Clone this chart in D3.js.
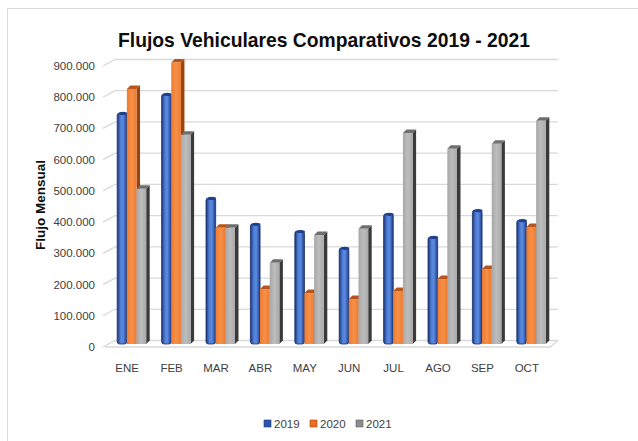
<!DOCTYPE html>
<html>
<head>
<meta charset="utf-8">
<script src="https://cdn.jsdelivr.net/npm/d3@7"></script>
<style>
  body { margin: 0; background: #fff; }
  text { font-family: "Liberation Sans", Arial, sans-serif; }
</style>
</head>
<body>
<script>
// chart values
const months = ["ENE", "FEB", "MAR", "ABR", "MAY", "JUN", "JUL", "AGO", "SEP", "OCT"];
const years = ["2019", "2020", "2021"];
const v2019 = [740000, 801000, 468000, 385000, 362000, 308000, 417000, 343000, 429000, 397000];
const v2020 = [817000, 902000, 372000, 176000, 163000, 144000, 170000, 208000, 240000, 375000];
const v2021 = [497000, 670000, 372000, 260000, 349000, 369000, 676000, 625000, 641000, 715000];
const yTicks = [0, 100000, 200000, 300000, 400000, 500000, 600000, 700000, 800000, 900000];

const series = [v2019, v2020, v2021];
const data = months.map((m, i) => ({ m, vals: years.map((y, j) => ({ y, v: series[j][i] })) }));

const W = 638, H = 441;
const svg = d3.select("body").append("svg").attr("width", W).attr("height", H);

// outer frame
svg.append("rect").attr("x", 7.5).attr("y", 8.5).attr("width", 700).attr("height", 500)
  .attr("fill", "#fff").attr("stroke", "#d9d9d9");

const fmt = d3.formatLocale({ decimal: ",", thousands: ".", grouping: [3], currency: ["$", ""] }).format(",");

var yScale = d3.scaleLinear().domain([0, 900000]).range([344, 63]);
var xScale = d3.scaleBand().domain(months).range([105, 549]);
var depth = 3.5;

const defs = svg.append("defs");
function hgrad(id, stops) {
  const g = defs.append("linearGradient").attr("id", id).attr("x1", 0).attr("x2", 1).attr("y1", 0).attr("y2", 0);
  stops.forEach(s => g.append("stop").attr("offset", s[0]).attr("stop-color", s[1]));
}
hgrad("gBlue", [[0, "#1c3577"], [0.35, "#4f7fd6"], [0.6, "#5a8ae0"], [1, "#1f3c86"]]);
hgrad("gOrange", [[0, "#f07a2e"], [0.5, "#f69048"], [1, "#ef7b30"]]);
hgrad("gGray", [[0, "#a8a8a8"], [0.5, "#bdbdbd"], [1, "#a9a9a9"]]);

// gridlines (back wall with slanted left edge)
const grid = svg.append("g");
yTicks.forEach(t => {
  const yb = yScale(t) - 3.5, yf = yScale(t) + 3;
  grid.append("path")
    .attr("d", `M103,${yf}L115,${yb}H558`)
    .attr("fill", "none").attr("stroke", "#d9d9d9").attr("stroke-width", 1.3);
});
// floor front edge
grid.append("path").attr("d", `M105,${yScale(0) + 3}H550L558,${yScale(0) - 3.5}`)
  .attr("fill", "none").attr("stroke", "#d9d9d9").attr("stroke-width", 1.3);

// y tick labels
svg.append("g").selectAll("text").data(yTicks).enter().append("text")
  .attr("x", 95).attr("y", d => yScale(d) + 3)
  .attr("dy", "0.35em").attr("text-anchor", "end")
  .attr("font-size", 11.5).attr("fill", "#404040")
  .text(d => fmt(d));

// x labels
svg.append("g").selectAll("text").data(months).enter().append("text")
  .attr("x", d => xScale(d) + xScale.bandwidth() / 2).attr("y", 372)
  .attr("text-anchor", "middle").attr("font-size", 11.5).attr("fill", "#404040")
  .text(d => d);

// bars
const inner = d3.scaleBand().domain(years).range([-10, 19]);
const bw = inner.bandwidth();
const groups = svg.append("g").selectAll("g").data(data).enter().append("g")
  .attr("transform", d => `translate(${xScale(d.m) + xScale.bandwidth() / 2},0)`);

// draw back-to-front so later series overlap side faces
years.forEach((yr, j) => {
  groups.each(function (d) {
    const g = d3.select(this);
    const v = d.vals[j].v;
    const x0 = inner(yr), yt = yScale(v), yb = yScale(0);
    if (j === 0) {
      g.append("rect").attr("x", x0).attr("y", yt).attr("width", bw).attr("height", yb - yt)
        .attr("fill", "url(#gBlue)").attr("stroke", "#17306b").attr("stroke-width", 0.8).attr("rx", 2.5);
      g.append("ellipse").attr("cx", x0 + bw / 2 + 1).attr("cy", yt + 0.5).attr("rx", bw / 2 - 0.5).attr("ry", 1.6)
        .attr("fill", "#1f3f8f");
    } else {
      const side = j === 1 ? "#9a4410" : "#3a3a3a";
      const top = j === 1 ? "#b8541a" : "#6e6e6e";
      g.append("path")
        .attr("d", `M${x0 + bw},${yt}L${x0 + bw + depth},${yt - depth}V${yb - depth}L${x0 + bw},${yb}Z`)
        .attr("fill", side);
      g.append("path")
        .attr("d", `M${x0},${yt}L${x0 + depth},${yt - depth}H${x0 + bw + depth}L${x0 + bw},${yt}Z`)
        .attr("fill", top);
      g.append("rect").attr("x", x0).attr("y", yt).attr("width", bw).attr("height", yb - yt)
        .attr("fill", j === 1 ? "url(#gOrange)" : "url(#gGray)");
    }
  });
});

// title
svg.append("text").attr("x", 324).attr("y", 47).attr("text-anchor", "middle")
  .attr("font-size", 21).attr("font-weight", "bold").attr("fill", "#0d0d0d")
  .attr("textLength", 412).attr("lengthAdjust", "spacingAndGlyphs")
  .text("Flujos Vehiculares Comparativos 2019 - 2021");

// y axis title
svg.append("text").attr("transform", "translate(45,205) rotate(-90)")
  .attr("text-anchor", "middle").attr("font-size", 12).attr("font-weight", "bold").attr("fill", "#0d0d0d")
  .attr("textLength", 90).attr("lengthAdjust", "spacingAndGlyphs")
  .text("Flujo Mensual");

// legend
const legColors = ["#2d54a8", "#ed6d24", "#8c8c8c"];
const legX = [264, 310, 356];
const leg = svg.append("g").selectAll("g").data(years).enter().append("g")
  .attr("transform", (d, i) => `translate(${legX[i]},420)`);
leg.append("rect").attr("width", 7).attr("height", 7).attr("fill", (d, i) => legColors[i])
  .attr("stroke", (d, i) => d3.color(legColors[i]).darker(1)).attr("stroke-width", 0.6);
leg.append("text").attr("x", 10).attr("y", 3.5).attr("dy", "0.35em")
  .attr("font-size", 11.5).attr("fill", "#404040").text(d => d);
</script>
</body>
</html>
